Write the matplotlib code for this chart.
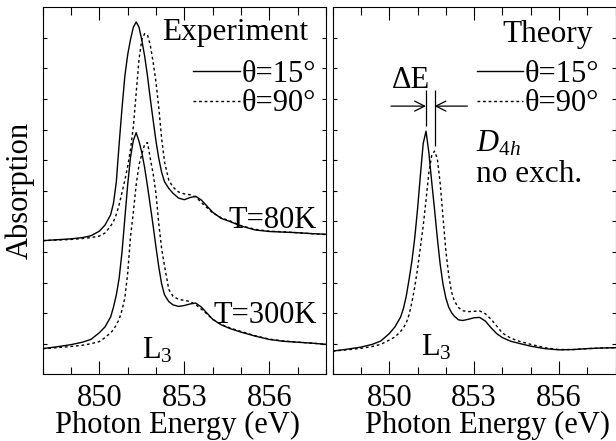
import numpy as np
import matplotlib
matplotlib.use('Agg')
from matplotlib import pyplot as plt
from matplotlib.ticker import MultipleLocator

# photon energy grid (eV) shared by all curves
energy = [848.0, 848.5, 849.0, 849.4, 849.7, 850.0, 850.2, 850.4, 850.5, 850.6,
          850.7, 850.8, 850.9, 851.0, 851.1, 851.2, 851.3, 851.4, 851.5, 851.6,
          851.7, 851.8, 851.9, 852.0, 852.1, 852.2, 852.3, 852.45, 852.6, 852.8,
          853.0, 853.2, 853.4, 853.6, 853.8, 854.0, 854.3, 854.6, 855.0, 855.5,
          856.0, 856.5, 857.0, 857.5, 858.0]

# experiment, T=80K (offset upwards)
exp80_15 = [4.37, 4.40, 4.43, 4.47, 4.53, 4.68, 4.88, 5.22, 5.60, 6.30,
            7.55, 8.70, 9.75, 10.45, 10.95, 11.35, 11.52, 11.35, 10.92, 10.40,
            9.75, 9.00, 8.30, 7.62, 7.05, 6.60, 6.30, 6.08, 5.92, 5.76,
            5.71, 5.78, 5.82, 5.70, 5.50, 5.30, 5.10, 5.00, 4.85, 4.72,
            4.67, 4.65, 4.63, 4.60, 4.58]
exp80_90 = [4.37, 4.39, 4.41, 4.44, 4.47, 4.52, 4.62, 4.85, 5.00, 5.23,
            5.55, 5.95, 6.35, 6.80, 7.35, 8.10, 9.20, 10.30, 10.95, 11.14,
            11.10, 10.75, 10.20, 9.55, 8.70, 7.70, 6.95, 6.35, 6.12, 5.96,
            5.90, 5.87, 5.80, 5.62, 5.45, 5.28, 5.12, 5.02, 4.86, 4.74,
            4.68, 4.66, 4.63, 4.60, 4.57]

# experiment, T=300K
exp300_15 = [0.84, 0.90, 0.97, 1.05, 1.14, 1.36, 1.55, 1.88, 2.20, 2.60,
             3.15, 4.00, 5.10, 6.20, 7.10, 7.65, 7.90, 7.62, 7.25, 6.75,
             6.15, 5.50, 4.85, 4.15, 3.50, 2.95, 2.60, 2.38, 2.27, 2.22,
             2.25, 2.30, 2.33, 2.20, 2.00, 1.80, 1.62, 1.50, 1.38, 1.25,
             1.14, 1.08, 1.05, 1.02, 0.98]
exp300_90 = [0.84, 0.87, 0.91, 0.95, 1.00, 1.07, 1.20, 1.36, 1.46, 1.62,
             1.80, 2.10, 2.50, 3.30, 4.50, 5.30, 6.20, 6.85, 7.20, 7.52,
             7.58, 7.05, 6.55, 5.90, 4.90, 4.10, 3.55, 2.78, 2.55, 2.45,
             2.42, 2.38, 2.28, 2.13, 1.97, 1.80, 1.63, 1.52, 1.40, 1.26,
             1.15, 1.09, 1.05, 1.02, 0.98]

# theory, D4h, no exchange
theory_15 = [0.76, 0.82, 0.89, 0.98, 1.09, 1.33, 1.55, 1.87, 2.15, 2.55,
             3.10, 3.70, 4.45, 5.40, 6.50, 7.55, 7.95, 7.25, 6.30, 5.40,
             4.45, 3.60, 2.95, 2.50, 2.20, 2.02, 1.90, 1.78, 1.76, 1.80,
             1.85, 1.86, 1.74, 1.52, 1.33, 1.20, 1.08, 1.01, 0.92, 0.84,
             0.80, 0.81, 0.84, 0.86, 0.87]
theory_90 = [0.76, 0.80, 0.85, 0.91, 0.98, 1.12, 1.22, 1.40, 1.52, 1.68,
             1.95, 2.35, 2.85, 3.45, 4.15, 4.85, 5.70, 6.60, 7.15, 7.30,
             7.05, 6.25, 5.15, 4.05, 3.25, 2.70, 2.40, 2.18, 2.08, 2.05,
             2.06, 2.07, 1.98, 1.80, 1.58, 1.35, 1.18, 1.08, 0.98, 0.87,
             0.81, 0.81, 0.84, 0.86, 0.87]

labels = ["θ=15°", "θ=90°"]
xticks = [850, 853, 856]

plt.rcParams['font.family'] = ['Liberation Serif', 'DejaVu Serif']
plt.rcParams['mathtext.fontset'] = 'custom'
plt.rcParams['mathtext.rm'] = 'Liberation Serif'
plt.rcParams['mathtext.it'] = 'Liberation Serif:italic'
plt.rcParams['axes.linewidth'] = 0.8

fs = 22

fig = plt.figure(figsize=(6.16, 4.41), dpi=100)
ax1 = fig.add_axes([0.0693, 0.1512, 0.4599, 0.8322])
ax2 = fig.add_axes([0.5401, 0.1512, 0.4591, 0.8322])

solid = dict(color='black', lw=1.0, ls='-')
dashed = dict(color='black', lw=1.0, ls=(0, (2, 2)))

ax1.plot(energy, exp80_15, **solid)
ax1.plot(energy, exp80_90, **dashed)
ax1.plot(energy, exp300_15, **solid)
ax1.plot(energy, exp300_90, **dashed)
ax2.plot(energy, theory_15, **solid, label=labels[0])
ax2.plot(energy, theory_90, **dashed, label=labels[1])

for ax in (ax1, ax2):
	ax.set_xlim(848, 858)
	ax.set_ylim(0, 12)
	ax.set_xticks(xticks)
	ax.xaxis.set_minor_locator(MultipleLocator(1))
	ax.set_yticks(range(1, 12))
	ax.tick_params(axis='x', which='major', direction='in', length=9.4, width=0.8,
	               top=True, bottom=True, labelsize=fs, pad=7)
	ax.tick_params(axis='x', which='minor', direction='in', length=5.4, width=0.8,
	               top=True, bottom=True)
	ax.tick_params(axis='y', which='major', direction='in', length=3.2, width=0.8,
	               left=True, right=True, labelleft=False)
	ax.set_xlabel("Photon Energy (eV)", fontsize=fs)
	ax.legend(ax2.get_lines(), labels, loc='upper left', frameon=False,
	          fontsize=fs, handlelength=1.52, handletextpad=0.05,
	          labelspacing=0.02, borderpad=0, borderaxespad=0,
	          bbox_to_anchor=(0.532 if ax is ax1 else 0.509, 0.857))

ax1.xaxis.set_label_coords(0.476, -0.1)
ax2.xaxis.set_label_coords(0.547, -0.1)
ax1.set_ylabel("Absorption", fontsize=fs, labelpad=6)

ax1.text(857.39, 10.92, "Experiment", fontsize=22.5, ha='right', va='baseline')
ax1.text(857.68, 4.77, "T=80K", fontsize=fs, ha='right', va='baseline')
ax1.text(857.68, 1.67, "T=300K", fontsize=fs, ha='right', va='baseline')
ax1.text(851.5, 0.53, r"L$_3$", fontsize=fs, ha='left', va='baseline')

ax2.text(857.18, 10.87, "Theory", fontsize=22.5, ha='right', va='baseline')
ax2.text(850.11, 9.35, "ΔE", fontsize=fs, ha='left', va='baseline')
ax2.text(853.06, 7.27, r"$\mathit{D}_{\mathit{4h}}$", fontsize=fs, ha='left', va='baseline')
ax2.text(853.06, 6.29, "no exch.", fontsize=22.5, ha='left', va='baseline')
ax2.text(851.12, 0.63, r"L$_3$", fontsize=fs, ha='left', va='baseline')

# peak separation marker, taken from the theory peaks
e = np.array(energy)
for curve in (theory_15, theory_90):
	i = int(np.argmax(curve))
	ax2.vlines(e[i], curve[i] + 0.18, 9.3, color='black', lw=0.9)
pk15 = e[int(np.argmax(theory_15))]
pk90 = e[int(np.argmax(theory_90))]
arrow = dict(arrowstyle='->', lw=0.9, color='black', mutation_scale=18, shrinkA=0, shrinkB=0)
ax2.annotate('', xy=(pk15, 8.77), xytext=(850.06, 8.77), arrowprops=arrow)
ax2.annotate('', xy=(pk90, 8.77), xytext=(852.76, 8.77), arrowprops=arrow)

fig.savefig("out.png", dpi=100)
